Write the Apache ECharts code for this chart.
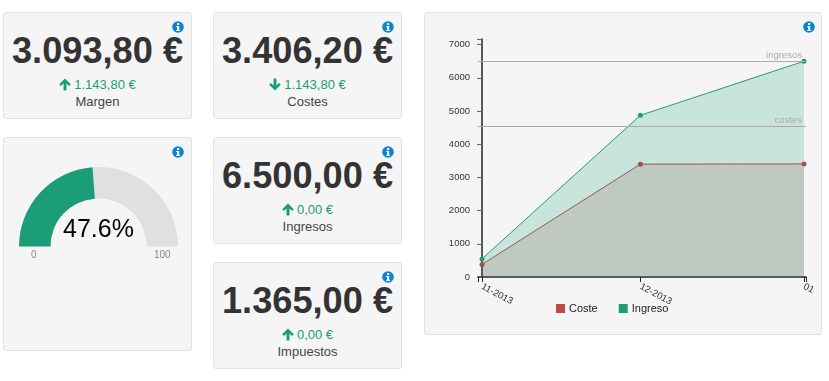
<!DOCTYPE html>
<html>
<head>
<meta charset="utf-8">
<style>
html,body{margin:0;padding:0;background:#fff;width:829px;height:381px;overflow:hidden;font-family:"Liberation Sans",Arial,sans-serif;color:#333}
.card{position:absolute;box-sizing:border-box;background:#f5f5f5;border:1px solid #e3e3e3;border-radius:3px}
.big,.sub,.lab{position:absolute;left:0;right:0;text-align:center;white-space:nowrap}
.big{font-size:36.2px;font-weight:bold;line-height:40px;top:18px}
.sub{font-size:13px;line-height:16px;top:64px;color:#1b9e77}
.sub svg{vertical-align:-2px;margin-right:3px}
.lab{font-size:13px;line-height:16px;top:81px;color:#444}
.info{position:absolute;width:12px;height:12px}
#gauge,#area{position:absolute}
</style>
<script src="https://cdn.jsdelivr.net/npm/echarts@6/dist/echarts.min.js"></script>
</head>
<body>
<div id="root"></div>
<div id="gauge" style="left:4px;top:138px;width:187px;height:212px"></div>
<div id="area" style="left:424px;top:13px;width:390px;height:320px"></div>
<script>
// KPI cards
var kpiTitles = ['Margen', 'Costes', 'Ingresos', 'Impuestos'];
var kpiValues = ['3.093,80 €', '3.406,20 €', '6.500,00 €', '1.365,00 €'];
var kpiDeltas = ['1.143,80 €', '1.143,80 €', '0,00 €', '0,00 €'];
var kpiDirections = ['up', 'down', 'up', 'up'];
// Gauge
var gaugeValue = 47.6;
var gaugeTicks = ['0', '100'];
// Area chart: x is days since the first month
var monthDays = [0, 30, 61];
var monthLabels = ['11-2013', '12-2013', '01-2014'];
var coste = [380, 3400, 3406.2];
var ingreso = [545, 4870, 6500];
var refIngresos = 6500;
var refCostes = 4550;
var yTicks = [0, 1000, 2000, 3000, 4000, 5000, 6000, 7000];

var RED = '#b94a48', GREEN = '#1b9e77';
var cardBoxes = [[3, 12, 189, 107], [213, 12, 189, 107], [213, 137, 189, 107], [213, 262, 189, 107]];
var root = document.getElementById('root');

function infoIcon(x, y) {
  return '<svg class="info" style="left:' + x + 'px;top:' + y + 'px" viewBox="0 0 12 12">' +
    '<circle cx="6" cy="6" r="5.8" fill="#0a84d0"/>' +
    '<rect x="5" y="2" width="2.2" height="2" fill="#fff"/>' +
    '<path d="M4.2 5h3v4h.9v1H4.2V9h.9V6h-.9z" fill="#fff"/></svg>';
}
function arrow(dir) {
  var d = 'M6 0.5L12 6.5 10.2 8.2 7.5 5.6V13H4.5V5.6L1.8 8.2 0 6.5z';
  return '<svg width="12" height="13" viewBox="0 0 12 13.5" style="' + (dir === 'down' ? 'transform:rotate(180deg);' : '') + '"><path d="' + d + '" fill="#1b9e77"/></svg>';
}
var html = '';
kpiTitles.forEach(function (t, i) {
  var b = cardBoxes[i];
  html += '<div class="card" style="left:' + b[0] + 'px;top:' + b[1] + 'px;width:' + b[2] + 'px;height:' + b[3] + 'px">' +
    '<div class="big">' + kpiValues[i] + '</div>' +
    '<div class="sub">' + arrow(kpiDirections[i]) + kpiDeltas[i] + '</div>' +
    '<div class="lab">' + t + '</div>' + infoIcon(168, 8) + '</div>';
});
html += '<div class="card" style="left:3px;top:137px;width:189px;height:214px">' + infoIcon(168, 8) + '</div>';
html += '<div class="card" style="left:424px;top:12px;width:398px;height:323px">' + infoIcon(378, 8) + '</div>';
root.innerHTML = html;

var font = '"Liberation Sans",Arial,sans-serif';

var g = echarts.init(document.getElementById('gauge'), null, { renderer: 'canvas' });
g.setOption({
  animation: false,
  backgroundColor: 'transparent',
  series: [{
    type: 'gauge', min: 0, max: 100, startAngle: 180, endAngle: 0,
    center: [94.5, 108.5], radius: 79.5,
    axisLine: { lineStyle: { width: 31.5, color: [[gaugeValue / 100, GREEN], [1, '#e0e0e0']] } },
    pointer: { show: false }, axisTick: { show: false }, splitLine: { show: false }, axisLabel: { show: false },
    title: { show: false },
    detail: {
      valueAnimation: false, formatter: function (v) { return v.toFixed(1) + '%'; },
      offsetCenter: [0, -16], fontSize: 25, fontWeight: 'normal', color: '#000', fontFamily: font
    },
    data: [{ value: gaugeValue }]
  }],
  graphic: [
    { type: 'text', left: 27, top: 112, style: { text: gaugeTicks[0], fontSize: 10, fill: '#888', fontFamily: font } },
    { type: 'text', left: 150, top: 112, style: { text: gaugeTicks[1], fontSize: 10, fill: '#888', fontFamily: font } }
  ]
});

var axisMinX = -0.76;
var axisMaxX = 61.38;
var axisMaxY = 7169;

var c = echarts.init(document.getElementById('area'), null, { renderer: 'canvas' });
c.setOption({
  animation: false,
  backgroundColor: 'transparent',
  grid: { left: 54, right: 8, top: 26, bottom: 56, containLabel: false, outerBoundsMode: 'none' },
  legend: {
    left: 127, top: 285, itemWidth: 9, itemHeight: 9, itemGap: 21, icon: 'rect',
    textStyle: { fontSize: 11, color: '#222', fontFamily: font, padding: [0, 0, 0, -1] },
    data: [{ name: 'Coste', itemStyle: { color: RED } }, { name: 'Ingreso', itemStyle: { color: GREEN } }]
  },
  xAxis: {
    type: 'value', min: axisMinX, max: axisMaxX,
    splitLine: { show: false },
    axisLine: { lineStyle: { color: '#222', width: 1.5 } },
    axisTick: { show: true, length: 5, lineStyle: { color: '#222' }, customValues: monthDays.concat([axisMinX, axisMaxX]) },
    axisLabel: {
      customValues: monthDays, rotate: -28, align: 'left', margin: 9,
      fontSize: 9.5, color: '#333', fontFamily: font, hideOverlap: false,
      formatter: function (v) { return monthLabels[monthDays.indexOf(v)] || ''; }
    }
  },
  yAxis: {
    type: 'value', min: 0, max: axisMaxY,
    splitLine: { show: false },
    axisLine: { show: true, lineStyle: { color: '#222', width: 1.5 } },
    axisTick: { show: true, length: 5, lineStyle: { color: '#666' }, customValues: yTicks.concat([axisMaxY]) },
    axisLabel: { customValues: yTicks, margin: 8, fontSize: 9.5, color: '#333', fontFamily: font, formatter: function (v) { return String(v); } }
  },
  series: [
    {
      name: 'Coste', type: 'line', z: 3,
      data: monthDays.map(function (d, i) { return [d, coste[i]]; }),
      symbol: 'circle', symbolSize: 5, showSymbol: true,
      itemStyle: { color: '#a5504a' }, lineStyle: { width: 1, color: '#8f5a55' }, areaStyle: { color: '#8f4a48', opacity: .18 }
    },
    {
      name: 'Ingreso', type: 'line', z: 2,
      data: monthDays.map(function (d, i) { return [d, ingreso[i]]; }),
      symbol: 'circle', symbolSize: 5, showSymbol: true,
      itemStyle: { color: GREEN }, lineStyle: { width: 1, color: GREEN }, areaStyle: { color: GREEN, opacity: .2 },
      markLine: {
        silent: true, symbol: 'none', animation: false,
        lineStyle: { color: '#aaa', type: 'solid', width: 1.2, opacity: 1 },
        label: { position: 'insideEndTop', distance: [4, 1], fontSize: 9.5, color: '#aaa', fontFamily: font, formatter: '{b}' },
        data: [{ name: 'ingresos', yAxis: refIngresos }, { name: 'costes', yAxis: refCostes }]
      }
    }
  ]
});
</script>
</body>
</html>
